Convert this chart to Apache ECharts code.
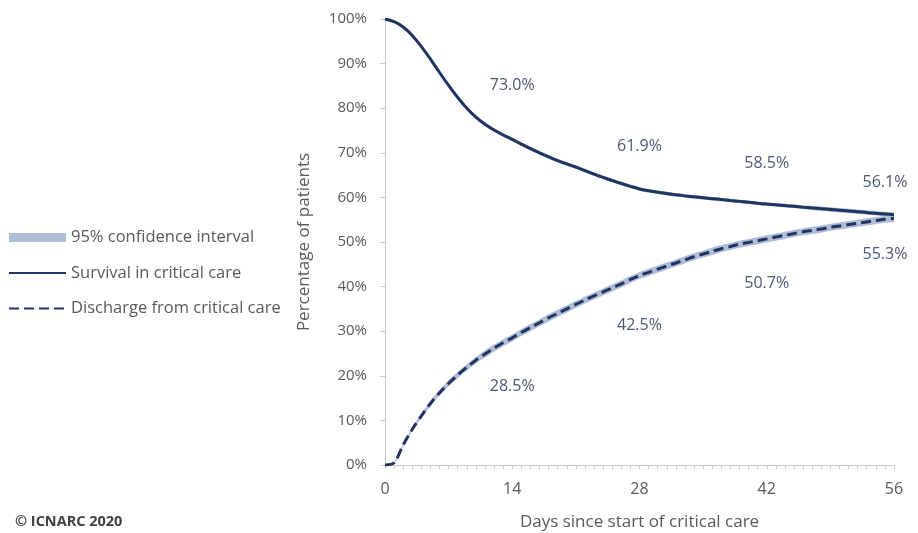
<!DOCTYPE html>
<html>
<head>
<meta charset="utf-8">
<script src="https://cdn.jsdelivr.net/npm/echarts@6/dist/echarts.min.js"></script>
<style>
  html, body { margin: 0; padding: 0; background: #ffffff; }
  #chart { width: 918px; height: 533px; }
</style>
</head>
<body>
<div id="chart"></div>
<script>
// Days since start of critical care
const days = [0,1,2,3,4,5,6,7,8,9,10,11,12,13,14,15,16,17,18,19,20,21,22,23,24,25,26,27,28,
  29,30,31,32,33,34,35,36,37,38,39,40,41,42,43,44,45,46,47,48,49,50,51,52,53,54,55,56];

// Percentage of patients still in critical care (survival)
const survival = [100,99.4,98.2,96.3,93.8,91.0,88.0,85.1,82.4,80.0,78.0,76.4,75.1,74.0,73.0,
  71.95,70.95,70.0,69.1,68.25,67.5,66.8,66.0,65.22,64.48,63.78,63.11,62.48,61.9,
  61.5,61.15,60.85,60.58,60.34,60.12,59.92,59.72,59.52,59.31,59.11,58.91,58.7,58.5,
  58.33,58.16,57.99,57.81,57.64,57.47,57.3,57.13,56.96,56.79,56.61,56.44,56.27,56.1];

// Percentage of patients discharged from critical care
const discharge = [0,0.5,4.5,8.0,11.0,13.8,16.2,18.3,20.2,21.9,23.5,24.9,26.2,27.4,28.5,
  29.7,30.8,31.9,33.0,34.0,35.0,36.0,37.0,37.9,38.8,39.7,40.6,41.6,42.5,
  43.2,43.9,44.6,45.3,46.0,46.7,47.3,47.9,48.5,49.0,49.5,49.9,50.3,50.7,
  51.1,51.5,51.9,52.3,52.6,52.9,53.3,53.6,53.9,54.2,54.5,54.8,55.1,55.3];

// Half-width of the 95% confidence interval around each curve
const survivalCI = [0,0.1,0.2,0.2,0.3,0.3,0.3,0.3,0.4,0.4,0.4,0.4,0.4,0.4,0.4,
  0.4,0.4,0.4,0.4,0.4,0.4,0.4,0.4,0.4,0.4,0.4,0.4,0.4,0.4,
  0.4,0.4,0.4,0.4,0.4,0.4,0.4,0.4,0.4,0.4,0.4,0.4,0.4,0.4,
  0.4,0.4,0.4,0.4,0.5,0.5,0.5,0.5,0.5,0.5,0.5,0.5,0.5,0.5];
const dischargeCI = [0,0.2,0.3,0.4,0.5,0.6,0.6,0.7,0.7,0.7,0.7,0.8,0.8,0.8,0.8,
  0.8,0.8,0.8,0.8,0.8,0.8,0.8,0.8,0.8,0.8,0.8,0.8,0.8,0.8,
  0.8,0.8,0.8,0.8,0.8,0.8,0.8,0.8,0.8,0.8,0.8,0.8,0.8,0.8,
  0.8,0.8,0.8,0.8,0.8,0.8,0.8,0.8,0.8,0.8,0.8,0.8,0.8,0.8];

// Days whose values are written on the chart
const labelledDays = [14, 28, 42, 56];

const yTicks = [0, 10, 20, 30, 40, 50, 60, 70, 80, 90, 100];

const NAVY = '#1f3461';
const BAND = '#b0bdd7';
const TEXT = '#595959';
const VALUE_TEXT = '#4a5878';
const FONT = '"Open Sans", Lato, sans-serif';

// Label offsets (px) relative to the curve at each labelled day
const survivalLabelOffset = { 14: [0, -54], 28: [0, -42], 42: [0, -41], 56: [-9, -32] };
const dischargeLabelOffset = { 14: [0, 49], 28: [0, 50], 42: [0, 45], 56: [-9, 36] };

function valueMarks(values, offsets) {
  return {
    symbol: 'circle',
    symbolSize: 0,
    silent: true,
    label: {
      show: true,
      position: 'inside',
      formatter: (p) => Number(p.value).toFixed(1) + '%',
      color: VALUE_TEXT,
      fontSize: 16,
      fontFamily: FONT
    },
    data: labelledDays.map((d) => {
      const i = days.indexOf(d);
      return { coord: [i, values[i]], value: values[i], label: { offset: offsets[d] } };
    })
  };
}

const survivalLower = survival.map((v, i) => v - survivalCI[i]);
const survivalWidth = survivalCI.map((h) => 2 * h);
const dischargeLower = discharge.map((v, i) => v - dischargeCI[i]);
const dischargeWidth = dischargeCI.map((h) => 2 * h);

const chart = echarts.init(document.getElementById('chart'), null, { renderer: 'canvas' });

const hiddenDot = { color: 'rgba(0,0,0,0)' };

chart.setOption({
  animation: false,
  backgroundColor: '#ffffff',
  textStyle: { fontFamily: FONT },
  grid: { left: 385, right: 24, top: 19, bottom: 68, containLabel: false, outerBoundsMode: 'none' },
  legend: {
    orient: 'vertical',
    left: 8,
    top: 229,
    padding: 0,
    itemWidth: 57,
    itemHeight: 9,
    itemGap: 18.5,
    textStyle: { color: TEXT, fontSize: 16.5, fontFamily: FONT },
    data: [
      { name: '95% confidence interval', icon: 'rect' },
      { name: 'Survival in critical care', itemStyle: hiddenDot },
      { name: 'Discharge from critical care', itemStyle: hiddenDot }
    ]
  },
  xAxis: {
    type: 'category',
    data: days,
    boundaryGap: false,
    name: 'Days since start of critical care',
    nameLocation: 'middle',
    nameGap: 49,
    nameTextStyle: { color: TEXT, fontSize: 17, fontFamily: FONT },
    axisLine: { lineStyle: { color: '#c8c8c8', width: 1 } },
    axisTick: { show: true, interval: 0, length: 4, lineStyle: { color: '#c8c8c8' } },
    axisLabel: {
      interval: (i) => days[i] % 14 === 0,
      color: TEXT,
      fontSize: 16,
      margin: 16,
      fontFamily: FONT
    },
    splitLine: { show: false }
  },
  yAxis: {
    type: 'value',
    min: yTicks[0],
    max: yTicks[yTicks.length - 1],
    interval: 10,
    name: 'Percentage of patients',
    nameLocation: 'middle',
    nameGap: 72,
    nameTextStyle: { color: TEXT, fontSize: 17, fontFamily: FONT },
    axisLine: { show: true, lineStyle: { color: '#c8c8c8', width: 1 } },
    axisTick: { show: true, length: 5, lineStyle: { color: '#c8c8c8' } },
    axisLabel: { formatter: '{value}%', color: TEXT, fontSize: 15, margin: 18, fontFamily: FONT },
    splitLine: { show: false }
  },
  series: [
    {
      name: 'survivalLower', type: 'line', stack: 'survivalBand', data: survivalLower,
      symbol: 'none', smooth: 0.3, lineStyle: { opacity: 0 }, silent: true, z: 1
    },
    {
      name: '95% confidence interval', type: 'line', stack: 'survivalBand', data: survivalWidth,
      symbol: 'none', smooth: 0.3, lineStyle: { opacity: 0 }, itemStyle: { color: BAND },
      areaStyle: { color: BAND, opacity: 1 }, silent: true, z: 1
    },
    {
      name: 'dischargeLower', type: 'line', stack: 'dischargeBand', data: dischargeLower,
      symbol: 'none', smooth: 0.3, lineStyle: { opacity: 0 }, silent: true, z: 1
    },
    {
      name: '95% confidence interval', type: 'line', stack: 'dischargeBand', data: dischargeWidth,
      symbol: 'none', smooth: 0.3, lineStyle: { opacity: 0 }, itemStyle: { color: BAND },
      areaStyle: { color: BAND, opacity: 1 }, silent: true, z: 1
    },
    {
      name: 'Survival in critical care', type: 'line', data: survival,
      symbol: 'none', smooth: 0.3, itemStyle: { color: NAVY },
      lineStyle: { color: NAVY, width: 3 }, z: 3,
      markPoint: valueMarks(survival, survivalLabelOffset)
    },
    {
      name: 'Discharge from critical care', type: 'line', data: discharge,
      symbol: 'none', smooth: 0.3, itemStyle: { color: NAVY },
      lineStyle: { color: NAVY, width: 3, type: [10, 5] }, z: 3,
      markPoint: valueMarks(discharge, dischargeLabelOffset)
    }
  ],
  graphic: [
    {
      type: 'text', left: 15, top: 514,
      style: { text: '\u00A9 ICNARC 2020', fill: '#404040', fontSize: 14.5, fontWeight: 'bold', fontFamily: FONT }
    }
  ]
});
</script>
</body>
</html>
